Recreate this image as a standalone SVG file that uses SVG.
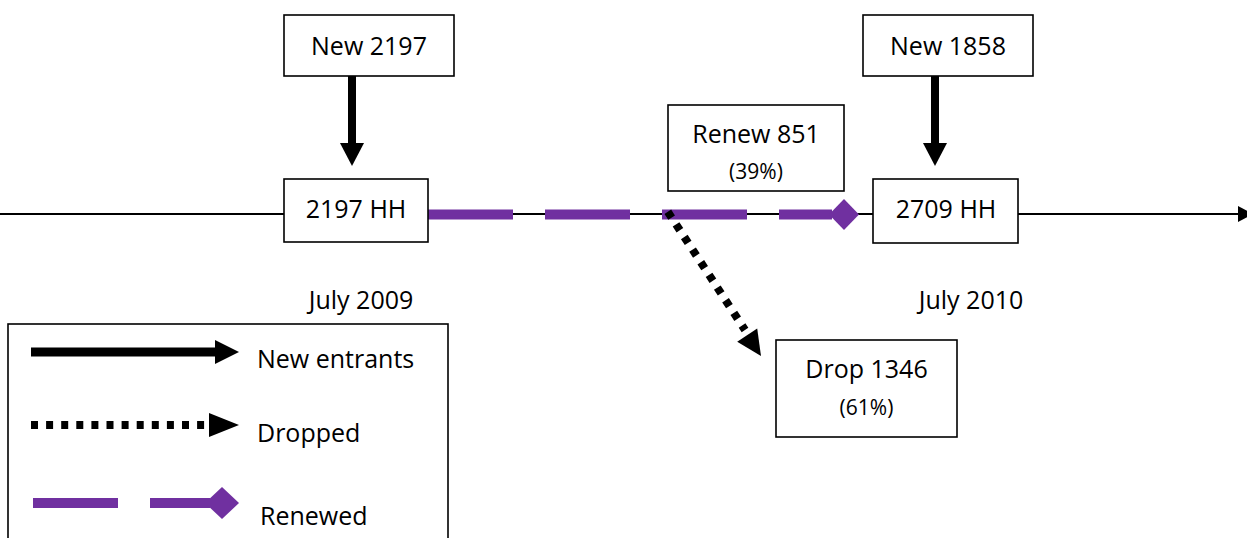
<svg xmlns="http://www.w3.org/2000/svg" width="1247" height="538" viewBox="0 0 1247 538">
<style>
.box{fill:#fff;stroke:#000;stroke-width:1.6}
.t{font-family:"Open Sans","Liberation Sans",sans-serif;font-size:25px;fill:#000;text-anchor:middle}
.tl{font-family:"Open Sans","Liberation Sans",sans-serif;font-size:25px;fill:#000}
.s{font-family:"Open Sans","Liberation Sans",sans-serif;font-size:21px;fill:#000;text-anchor:middle}
.axis{stroke:#000;stroke-width:2;fill:none}
.solid{stroke:#000;stroke-width:8;fill:none}
.dot{stroke:#000;stroke-width:8;fill:none;stroke-dasharray:7 8.1}
.renew{stroke:#7030A0;stroke-width:10;fill:none;stroke-dasharray:85 32}
.head{fill:#000}
.dia{fill:#7030A0}
</style>
<rect width="1247" height="538" fill="#fff"/>
<g id="connectors">
  <line class="axis" x1="0" y1="214" x2="1240" y2="214"/>
  <polygon class="head" points="1238,206 1253,214 1238,222"/>
  <line class="solid" x1="352" y1="76" x2="352" y2="144"/>
  <polygon class="head" points="340,143 364,143 352,166"/>
  <line class="solid" x1="935" y1="76" x2="935" y2="144"/>
  <polygon class="head" points="923,143 947,143 935,166"/>
  <path class="renew" d="M428,214.5 H832"/>
  <polygon class="dia" points="844,199 859,214.5 844,230 829,214.5"/>
  <path class="dot" d="M667.8,211.7 L745,330"/>
  <polygon class="head" points="737.2,341.8 761,356 757.2,328.6"/>
</g>
<g id="node-new2197"><rect class="box" x="284" y="15" width="170" height="61"/><text class="t" x="369" y="55">New 2197</text></g>
<g id="node-2197hh"><rect class="box" x="284" y="179" width="144" height="63"/><text class="t" x="356" y="218">2197 HH</text></g>
<g id="node-renew"><rect class="box" x="668" y="105" width="176" height="86"/><text class="t" x="756" y="143">Renew 851</text><text class="s" x="756" y="179">(39%)</text></g>
<g id="node-new1858"><rect class="box" x="863" y="15" width="170" height="61"/><text class="t" x="948" y="55">New 1858</text></g>
<g id="node-2709hh"><rect class="box" x="873" y="179" width="145" height="64"/><text class="t" x="946" y="218">2709 HH</text></g>
<g id="node-drop"><rect class="box" x="776" y="340" width="181" height="97"/><text class="t" x="866.5" y="378">Drop 1346</text><text class="s" x="866.5" y="415">(61%)</text></g>
<g id="labels">
  <text class="t" x="361" y="309">July 2009</text>
  <text class="t" x="971" y="309">July 2010</text>
</g>
<g id="legend">
  <rect class="box" x="8" y="324" width="440" height="230"/>
  <line class="solid" x1="31" y1="352" x2="216" y2="352" style="stroke-width:9"/>
  <polygon class="head" points="215,340 239,352 215,364"/>
  <text class="tl" x="257" y="368">New entrants</text>
  <path class="dot" d="M31,425 H208"/>
  <polygon class="head" points="209,413 239,425 209,437"/>
  <text class="tl" x="257" y="442">Dropped</text>
  <line x1="33" y1="503" x2="118" y2="503" stroke="#7030A0" stroke-width="10"/>
  <line x1="150" y1="503" x2="210" y2="503" stroke="#7030A0" stroke-width="10"/>
  <polygon class="dia" points="222,487 239,503 222,519 205,503"/>
  <text class="tl" x="260" y="525">Renewed</text>
</g>
</svg>
